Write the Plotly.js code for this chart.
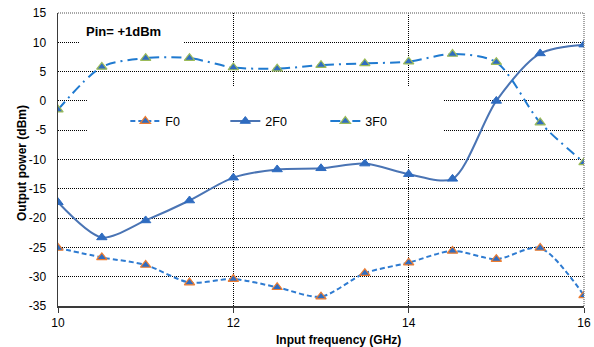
<!DOCTYPE html>
<html>
<head>
<meta charset="utf-8">
<script src="https://cdn.plot.ly/plotly-3.0.1.min.js"></script>
<style>html,body{margin:0;padding:0;background:#fff;}#chart{width:594px;height:347px;}</style>
</head>
<body>
<div id="chart"></div>
<script>
const freq = [10, 10.5, 11, 11.5, 12, 12.5, 13, 13.5, 14, 14.5, 15, 15.5, 16];
const f0   = [-25.1, -26.7, -28.0, -31.0, -30.4, -31.8, -33.4, -29.4, -27.6, -25.6, -27.0, -25.1, -33.2];
const f2   = [-17.3, -23.3, -20.4, -17.0, -13.1, -11.7, -11.5, -10.7, -12.5, -13.3, 0.0, 8.1, 9.6];
const f3   = [-1.5, 5.8, 7.3, 7.3, 5.7, 5.5, 6.1, 6.4, 6.7, 8.0, 6.6, -3.7, -10.5];
const seriesNames = ['F0', '2F0', '3F0'];
const xTicks = [10, 12, 14, 16];
const yTicks = [-35, -30, -25, -20, -15, -10, -5, 0, 5, 10, 15];

const mkFill = '#2f6cc0';
const traces = [
  {x: freq, y: f0, name: seriesNames[0], type: 'scatter', mode: 'lines+markers',
   line: {color: '#2e7bd1', width: 2, dash: '5px,3px', shape: 'spline', smoothing: 0.8},
   marker: {symbol: 'triangle-up', size: 9, color: mkFill, line: {color: '#ed7d31', width: 1.2}}},
  {x: freq, y: f2, name: seriesNames[1], type: 'scatter', mode: 'lines+markers',
   line: {color: '#4a74b4', width: 2, shape: 'spline', smoothing: 0.8},
   marker: {symbol: 'triangle-up', size: 9, color: mkFill, line: {color: mkFill, width: 1}}},
  {x: freq, y: f3, name: seriesNames[2], type: 'scatter', mode: 'lines+markers',
   line: {color: '#1f7ad0', width: 2, dash: '10px,5px,2px,5px', shape: 'spline', smoothing: 0.8},
   marker: {symbol: 'triangle-up', size: 9, color: mkFill, line: {color: '#9bbb59', width: 1.2}}}
];

const font = {family: 'Liberation Sans, Arial, sans-serif', size: 12, color: '#000'};
const layout = {
  width: 594, height: 347,
  margin: {l: 58, r: 10, t: 13, b: 41},
  paper_bgcolor: '#fff', plot_bgcolor: '#fff',
  font: font,
  showlegend: true,
  legend: {orientation: 'h', x: 0.128, y: 0.63, xanchor: 'left', yanchor: 'middle',
           bgcolor: 'rgba(0,0,0,0)', font: {family: font.family, size: 12.5, color: '#000'},
           entrywidth: 55, entrywidthmode: 'pixels', itemwidth: 30, traceorder: 'normal'},
  xaxis: {range: [10, 16], tickvals: xTicks, ticktext: xTicks.map(String),
          showgrid: true, gridcolor: '#000', griddash: '1px,1px', gridwidth: 1,
          showline: true, linecolor: '#3a3a3a', linewidth: 1.5,
          ticks: 'outside', ticklen: 5, tickcolor: '#3a3a3a', ticklabelstandoff: 0,
          tickfont: {family: font.family, size: 12, color: '#000'},
          zeroline: false, fixedrange: true},
  yaxis: {range: [-35, 15], tickvals: yTicks, ticktext: yTicks.map(String),
          showgrid: true, gridcolor: '#000', griddash: '1px,1px', gridwidth: 1,
          showline: true, linecolor: '#3a3a3a', linewidth: 1.5,
          ticks: '', ticklabelstandoff: 8,
          tickfont: {family: font.family, size: 12, color: '#000'},
          zeroline: false, fixedrange: true},
  shapes: [
    {type: 'rect', xref: 'x', yref: 'y', x0: 10.33, x1: 14.40, y0: -9.23, y1: 2.37,
     fillcolor: '#fff', line: {width: 0}, layer: 'between'},
    {type: 'rect', xref: 'x', yref: 'y', x0: 10.24, x1: 11.43, y0: 9.3, y1: 13.5,
     fillcolor: '#fff', line: {width: 0}, layer: 'between'},
    {type: 'line', xref: 'paper', yref: 'paper', x0: 0, x1: 1, y0: 1, y1: 1,
     line: {color: '#8a8a8a', width: 1.5, dash: '1px,1px'}},
    {type: 'line', xref: 'paper', yref: 'paper', x0: 1, x1: 1, y0: 0, y1: 1,
     line: {color: '#8a8a8a', width: 1.5, dash: '1px,1px'}}
  ],
  annotations: [
    {text: '<b>Pin= +1dBm</b>', xref: 'paper', yref: 'paper', x: (84-58)/526, y: (306-31)/293,
     xanchor: 'left', yanchor: 'middle', showarrow: false, font: {family: font.family, size: 13, color: '#000'}},
    {text: '<b>Input frequency (GHz)</b>', xref: 'paper', yref: 'paper', x: (338-58)/526, y: (306-340)/293,
     xanchor: 'center', yanchor: 'middle', showarrow: false, font: {family: font.family, size: 12, color: '#000'}},
    {text: '<b>Output power (dBm)</b>', xref: 'paper', yref: 'paper', x: (22-58)/526, y: (306-163)/293,
     xanchor: 'center', yanchor: 'middle', textangle: -90, showarrow: false, font: {family: font.family, size: 12, color: '#000'}}
  ]
};

Plotly.newPlot('chart', traces, layout, {staticPlot: true, displayModeBar: false});
</script>
</body>
</html>
